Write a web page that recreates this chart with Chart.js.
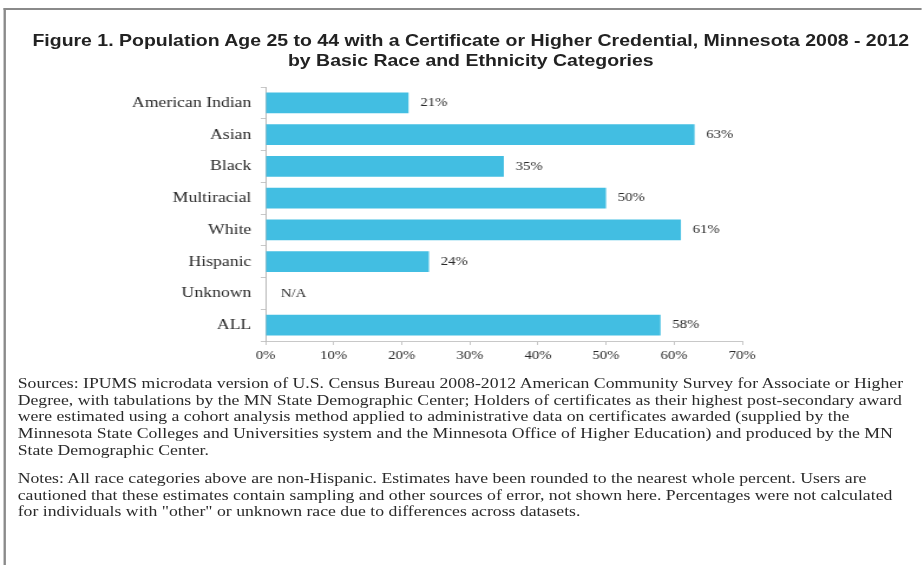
<!DOCTYPE html>
<html>
<head>
<meta charset="utf-8">
<script src="https://cdn.jsdelivr.net/npm/chart.js@4"></script>
<style>
  body { margin: 0; background: #fff; }
  /* the reference is stretched horizontally, so lay out narrow and stretch */
  #page { position: relative; width: 781px; height: 565px; transform: scaleX(1.18); transform-origin: 0 0; overflow: hidden; }
  #frame { position: absolute; left: 3px; top: 8px; right: -20px; bottom: -20px; border-top: 2px solid #8a8a8a; border-left: 2px solid #8a8a8a; }
  #title { position: absolute; left: 0; top: 30px; width: 798px; text-align: center; font: bold 16.5px 'Liberation Sans', Arial, sans-serif; line-height: 20px; color: #222; }
  #chart { position: absolute; left: 0; top: 0; }
  .notes { position: absolute; left: 15px; font: 15px 'Liberation Serif', 'Times New Roman', serif; line-height: 16.7px; color: #2a2a2a; white-space: nowrap; }
</style>
</head>
<body>
<div id="page">
  <div id="frame"></div>
  <canvas id="chart" width="781" height="370"></canvas>
  <div id="title">Figure 1. Population Age 25 to 44 with a Certificate or Higher Credential, Minnesota 2008 - 2012<br>by Basic Race and Ethnicity Categories</div>
  <div class="notes" style="top:375px">Sources: IPUMS microdata version of U.S. Census Bureau 2008-2012 American Community Survey for Associate or Higher<br>Degree, with tabulations by the MN State Demographic Center; Holders of certificates as their highest post-secondary award<br>were estimated using a cohort analysis method applied to administrative data on certificates awarded (supplied by the<br>Minnesota State Colleges and Universities system and the Minnesota Office of Higher Education) and produced by the MN<br>State Demographic Center.</div>
  <div class="notes" style="top:470px">Notes: All race categories above are non-Hispanic. Estimates have been rounded to the nearest whole percent. Users are<br>cautioned that these estimates contain sampling and other sources of error, not shown here. Percentages were not calculated<br>for individuals with "other" or unknown race due to differences across datasets.</div>
</div>
<script>
const categories = ['American Indian', 'Asian', 'Black', 'Multiracial', 'White', 'Hispanic', 'Unknown', 'ALL'];
const shares = [21, 63, 35, 50, 61, 24, null, 58];
const shareLabels = ['21%', '63%', '35%', '50%', '61%', '24%', 'N/A', '58%'];
const xMax = 70;
const xStep = 10;

const serif = '"Liberation Serif", "Times New Roman", serif';

// value text to the right of each bar (N/A sits next to the axis)
const barLabels = {
  id: 'barLabels',
  afterDatasetsDraw(chart) {
    const ctx = chart.ctx;
    const xScale = chart.scales.x;
    const yScale = chart.scales.y;
    ctx.save();
    ctx.font = '12.5px ' + serif;
    ctx.fillStyle = '#2a2a2a';
    ctx.textBaseline = 'middle';
    shares.forEach((v, i) => {
      const x = v == null ? xScale.getPixelForValue(0) + 13 : xScale.getPixelForValue(v) + 10;
      ctx.fillText(shareLabels[i], x, yScale.getPixelForValue(i));
    });
    ctx.restore();
  }
};

new Chart(document.getElementById('chart').getContext('2d'), {
  type: 'bar',
  data: {
    labels: categories,
    datasets: [{
      data: shares,
      backgroundColor: '#42bee2',
      barPercentage: 0.66,
      categoryPercentage: 1
    }]
  },
  options: {
    indexAxis: 'y',
    responsive: false,
    animation: false,
    devicePixelRatio: 1,
    layout: { padding: { left: 0, right: 152, top: 87, bottom: 0 } },
    plugins: {
      legend: { display: false },
      tooltip: { enabled: false }
    },
    scales: {
      x: {
        min: 0,
        max: xMax,
        afterFit: (s) => { s.height = 29; },
        grid: { drawOnChartArea: false, tickLength: 4, color: '#c8c8c8' },
        border: { color: '#c8c8c8' },
        ticks: {
          stepSize: xStep,
          padding: 3,
          color: '#2a2a2a',
          font: { family: serif, size: 12.5 },
          callback: (v) => v + '%'
        }
      },
      y: {
        afterFit: (s) => { s.width = 225; },
        grid: { drawOnChartArea: false, offset: true, tickLength: 4, color: '#c8c8c8' },
        border: { color: '#bbb' },
        ticks: {
          padding: 8,
          color: '#2a2a2a',
          font: { family: serif, size: 15 }
        }
      }
    }
  },
  plugins: [barLabels]
});
</script>
</body>
</html>
